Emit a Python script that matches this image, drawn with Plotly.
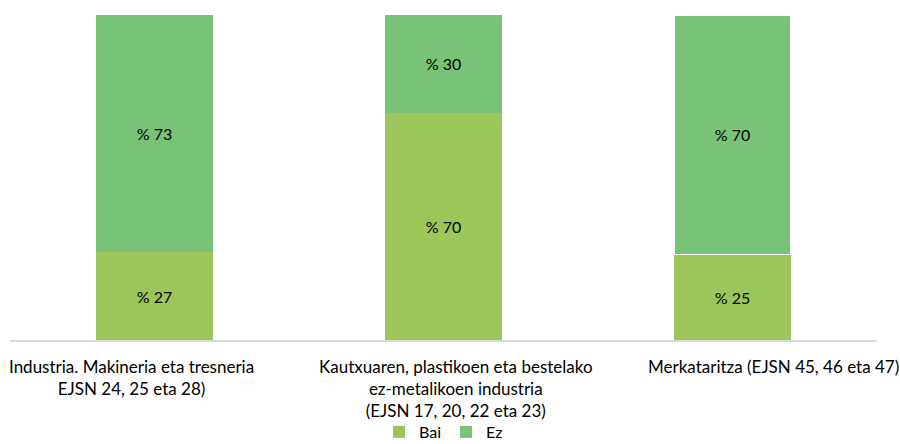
import plotly.graph_objects as go

categories = [
    "Industria. Makineria eta tresneria<br>EJSN 24, 25 eta 28)",
    "Kautxuaren, plastikoen eta bestelako<br>ez-metalikoen industria<br>(EJSN 17, 20, 22 eta 23)",
    "Merkataritza (EJSN 45, 46 eta 47)",
]
keys = ["c1", "c2", "c3"]
bai = [27, 70, 25]
ez = [73, 30, 70]

BAI_COLOR = "#9CC55A"
EZ_COLOR = "#78C377"
FONT = "Lato, 'Open Sans', sans-serif"

fig = go.Figure()
fig.add_trace(go.Bar(
    name="Bai", x=keys, y=bai, marker_color=BAI_COLOR,
    marker_line_width=0,
    text=[f"% {v}" for v in bai], textposition="inside", insidetextanchor="middle",
    textfont=dict(color="black", size=16, family=FONT),
))
fig.add_trace(go.Bar(
    name="Ez", x=keys, y=ez, marker_color=EZ_COLOR,
    marker_line=dict(color="white", width=[0, 0, 1.5]),
    text=[f"% {v}" for v in ez], textposition="inside", insidetextanchor="middle",
    textfont=dict(color="black", size=16, family=FONT),
))

fig.update_layout(
    barmode="stack", barnorm="percent", bargap=0.595,
    width=900, height=444,
    margin=dict(l=10, r=23, t=15, b=104, autoexpand=False),
    plot_bgcolor="white", paper_bgcolor="white",
    font=dict(family=FONT, size=17, color="black"),
    showlegend=True,
    legend=dict(orientation="h", x=0.5, xanchor="center", y=-0.283, yanchor="middle",
                font=dict(size=16, family=FONT), traceorder="normal",
                itemwidth=30, tracegroupgap=0),
    uniformtext=dict(mode=False),
)
fig.update_xaxes(showticklabels=False, showline=True, linecolor="#D9D9D9", linewidth=1.5,
                 ticks="", range=[-0.5, 2.5], fixedrange=True)
fig.update_yaxes(visible=False, range=[0, 100], showgrid=False, fixedrange=True)

xshifts = [-23, 12, 41]
for k, lab, xs in zip(keys, categories, xshifts):
    fig.add_annotation(x=k, xref="x", y=0, yref="paper", yanchor="top", yshift=-14,
                       text=lab, showarrow=False, align="center", xshift=xs,
                       font=dict(size=17, family=FONT, color="black"))

fig.write_html("out.html", config={"displayModeBar": False},
               post_script="document.body.style.margin='0';document.body.style.overflow='hidden';")
